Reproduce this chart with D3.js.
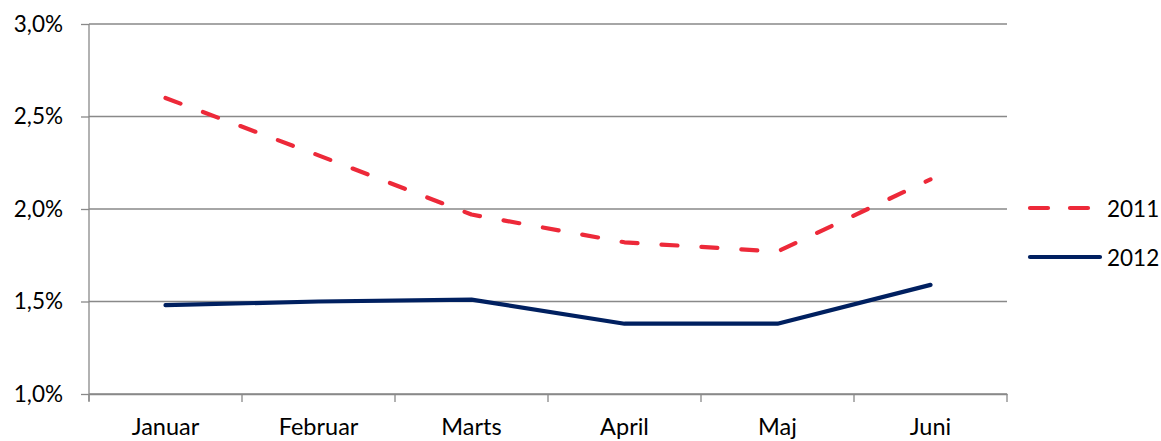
<!DOCTYPE html>
<html>
<head>
<meta charset="utf-8">
<script src="https://cdn.jsdelivr.net/npm/d3@7"></script>
<style>
  body { margin: 0; background: #fff; overflow: hidden; }
  svg text { font-family: Lato, "Open Sans", sans-serif; fill: #000; }
</style>
</head>
<body>
<div id="chart"></div>
<script>
const months = ["Januar", "Februar", "Marts", "April", "Maj", "Juni"];
const values2011 = [2.60, 2.29, 1.97, 1.82, 1.77, 2.16];
const values2012 = [1.48, 1.50, 1.51, 1.38, 1.38, 1.59];
const yTicks = [1.0, 1.5, 2.0, 2.5, 3.0];

const width = 1161;
const height = 441;
const margin = { top: 24, right: 154, bottom: 47, left: 89 };

const series = [
    { name: "2011", values: values2011, color: "#ED2939", dash: "16,24" },
    { name: "2012", values: values2012, color: "#002060", dash: null }
];

const x = d3.scaleBand()
    .domain(months)
    .range([margin.left, width - margin.right]);

const y = d3.scaleLinear()
    .domain([1.0, 3.0])
    .range([height - margin.bottom, margin.top]);

const svg = d3.select("#chart")
    .append("svg")
    .attr("width", width)
    .attr("height", height);

// grid lines
svg.append("g")
    .selectAll("line")
    .data(yTicks)
    .join("line")
    .attr("x1", margin.left)
    .attr("x2", width - margin.right)
    .attr("y1", d => y(d))
    .attr("y2", d => y(d))
    .attr("stroke", "#898989")
    .attr("stroke-width", 1.3);

// y axis
const yAxis = svg.append("g")
    .attr("transform", `translate(${margin.left},0)`)
    .call(d3.axisLeft(y)
        .tickValues(yTicks)
        .tickSize(8)
        .tickPadding(18)
        .tickFormat(d => d3.format(".1f")(d).replace(".", ",") + "%"));
yAxis.select(".domain")
    .attr("d", `M0,${margin.top}V${height - margin.bottom + 7}`);
yAxis.selectAll("line, path").attr("stroke", "#898989").attr("stroke-width", 1.3);
yAxis.selectAll("text").attr("font-size", 22.5).attr("font-family", "Lato, sans-serif");

// x axis
const xAxis = svg.append("g")
    .attr("transform", `translate(0,${height - margin.bottom})`)
    .call(d3.axisBottom(x).tickSize(0));
xAxis.select(".domain").attr("stroke", "#898989").attr("stroke-width", 1.3);
xAxis.selectAll("text")
    .attr("y", 41)
    .attr("dy", null)
    .attr("font-size", 23.5)
    .attr("font-family", "Lato, sans-serif");

// tick marks between categories
const bounds = months.map(m => x(m)).concat([x(months[months.length - 1]) + x.bandwidth()]);
xAxis.append("g")
    .selectAll("line")
    .data(bounds)
    .join("line")
    .attr("x1", d => d)
    .attr("x2", d => d)
    .attr("y1", 0)
    .attr("y2", 8)
    .attr("stroke", "#898989")
    .attr("stroke-width", 1.3);

// lines
const line = d3.line()
    .x((d, i) => x(months[i]) + x.bandwidth() / 2)
    .y(d => y(d));

svg.append("g")
    .selectAll("path")
    .data(series)
    .join("path")
    .attr("d", d => line(d.values))
    .attr("fill", "none")
    .attr("stroke", d => d.color)
    .attr("stroke-width", 4.2)
    .attr("stroke-linecap", "round")
    .attr("stroke-linejoin", "round")
    .attr("stroke-dasharray", d => d.dash);

// legend
const legend = svg.append("g")
    .selectAll("g")
    .data(series)
    .join("g")
    .attr("transform", (d, i) => `translate(1030,${208 + i * 49})`);

legend.append("line")
    .attr("x1", 0)
    .attr("x2", d => d.dash ? 62 : 70)
    .attr("stroke", d => d.color)
    .attr("stroke-width", 4.2)
    .attr("stroke-linecap", "round")
    .attr("stroke-dasharray", d => d.dash ? "18,22" : null);

legend.append("text")
    .attr("x", 77)
    .attr("y", 9)
    .attr("font-size", 22.5)
    .text(d => d.name);
</script>
</body>
</html>
